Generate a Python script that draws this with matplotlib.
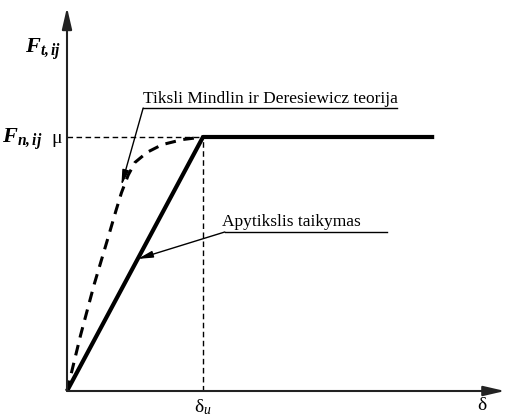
import matplotlib.pyplot as plt
import numpy as np

plt.rcParams['font.family'] = 'Liberation Serif'
plt.rcParams['mathtext.fontset'] = 'custom'
plt.rcParams['mathtext.rm'] = 'Liberation Serif'
plt.rcParams['mathtext.it'] = 'Liberation Serif:italic'
plt.rcParams['mathtext.bf'] = 'Liberation Serif:bold'
plt.rcParams['mathtext.bfit'] = 'Liberation Serif:bold:italic'

# poslinkis (delta / delta_u) ir jega (F_t / F_n mu)
approx_x = [0.0, 1.0, 2.7]
approx_y = [0.0, 1.0, 1.0]

mindlin_x = [0.0, 0.10, 0.20, 0.30, 0.36, 0.40, 0.45, 0.50, 0.59, 0.70, 0.85, 1.0]
mindlin_y = [0.0, 0.22, 0.42, 0.60, 0.71, 0.78, 0.85, 0.90, 0.94, 0.97, 0.99, 1.0]

label_mindlin = 'Tiksli Mindlin ir Deresiewicz teorija'
label_approx = 'Apytikslis taikymas'

# pikseliu mastelis
sx, sy = 136.0, 254.0
x0, y0 = 67.0, 391.0
W, H = 507, 419

fig = plt.figure(figsize=(W / 100, H / 100), dpi=100)
ax = fig.add_axes([0, 0, 1, 1])
ax.set_xlim(-x0 / sx, (W - x0) / sx)
ax.set_ylim(-(H - y0) / sy, y0 / sy)
ax.axis('off')

# asys su rodyklemis
ax.annotate('', xy=(3.22, 0), xytext=(0, 0),
            arrowprops=dict(arrowstyle='-|>,head_length=1.3,head_width=0.3',
                            lw=1.5, color='#222222', shrinkA=0, shrinkB=0))
ax.annotate('', xy=(0, 1.51), xytext=(0, 0),
            arrowprops=dict(arrowstyle='-|>,head_length=1.3,head_width=0.3',
                            lw=1.5, color='#222222', shrinkA=0, shrinkB=0))

# pagalbines linijos
ax.plot([0, approx_x[1]], [approx_y[1], approx_y[1]], ls=(0, (4, 2.5)), lw=1.0, color='black')
ax.plot([approx_x[1], approx_x[1]], [0, approx_y[1]], ls=(0, (4, 2.5)), lw=1.0, color='black')

# kreives
ax.plot(mindlin_x, mindlin_y, ls=(0, (3.5, 2.5)), lw=2.2, color='black')
ax.plot(approx_x, approx_y, lw=3.0, color='black', solid_capstyle='butt')

# uzrasai su rodyklemis
ax.text(0.56, 1.135, label_mindlin, fontsize=12.5, ha='left', va='baseline')
ax.plot([0.56, 2.43], [1.114, 1.114], lw=1.0, color='black')
ax.annotate('', xy=(0.40, 0.81), xytext=(0.56, 1.114),
            arrowprops=dict(arrowstyle='-|>,head_length=0.9,head_width=0.2',
                            lw=1.0, color='black', shrinkA=0, shrinkB=0))

ax.text(1.14, 0.65, label_approx, fontsize=12.5, ha='left', va='baseline')
ax.plot([1.16, 2.35], [0.626, 0.626], lw=1.0, color='black')
ax.annotate('', xy=(0.52, 0.52), xytext=(1.16, 0.626),
            arrowprops=dict(arrowstyle='-|>,head_length=0.9,head_width=0.2',
                            lw=1.0, color='black', shrinkA=0, shrinkB=0))

# asiu pavadinimai
ax.text(-0.04, 1.33, r'$\mathbfit{F}_{\mathbfit{t,ij}}$', fontsize=16, ha='right', va='baseline')
ax.text(-0.18, 0.975, r'$\mathbfit{F}_{\mathbfit{n,ij}}$', fontsize=16, ha='right', va='baseline')
ax.text(-0.04, 0.975, 'μ', fontsize=14, ha='right', va='baseline')
ax.text(1.0, -0.082, r'δ$_u$', fontsize=14, ha='center', va='baseline')
ax.text(3.05, -0.075, 'δ', fontsize=14, ha='center', va='baseline')

fig.savefig('out.png', dpi=100)
